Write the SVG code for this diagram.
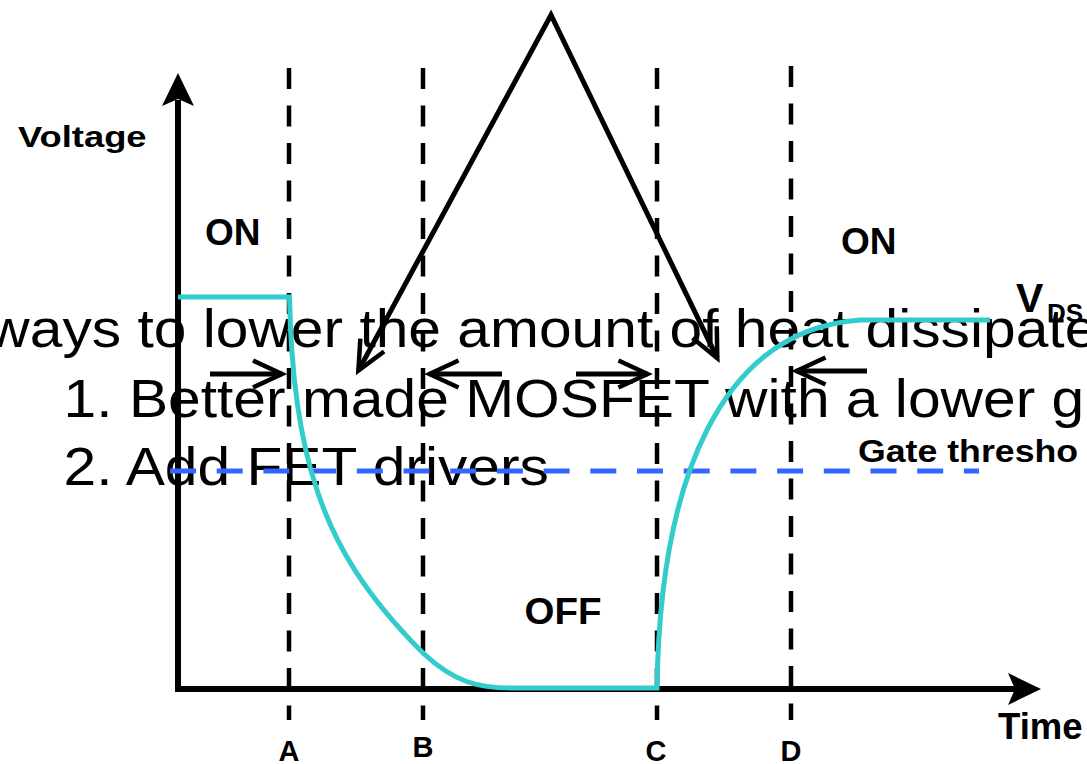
<svg xmlns="http://www.w3.org/2000/svg" width="1087" height="764" viewBox="0 0 1087 764">
<style>
.big{font-family:"Liberation Sans",Arial,sans-serif;font-size:54px;fill:#000}
.lbl{font-family:"Liberation Sans",Arial,sans-serif;font-weight:bold;fill:#000}
.guide{fill:none;stroke:#000;stroke-width:4.5;stroke-dasharray:21 16.5}
.arr{fill:none;stroke:#000;stroke-width:5;marker-end:url(#open)}
.cyan{fill:none;stroke:#33cccc;stroke-width:5}
</style>
<defs>
<marker id="open" markerUnits="userSpaceOnUse" viewBox="-34 -17 40 34" refX="0" refY="0" markerWidth="40" markerHeight="34" orient="auto-start-reverse" overflow="visible">
<path d="M-29,-13.5 L0,0 L-29,13.5" fill="none" stroke="#000" stroke-width="4.5" stroke-linejoin="miter"/>
</marker>
</defs>
<rect width="1087" height="764" fill="#fff"/>
<g id="overlay-text">
<text class="big" transform="translate(-12.7,347) scale(1.088,1)">ways to lower the amount of heat dissipate</text>
<text class="big" transform="translate(63.6,417) scale(1.088,1)">1. Better made MOSFET with a lower g</text>
<text class="big" transform="translate(63.6,485) scale(1.088,1)">2. Add FET drivers</text>
</g>
<g id="guides">
<line class="guide" x1="289" y1="68" x2="289" y2="720"/>
<line class="guide" x1="423" y1="68" x2="423" y2="720"/>
<line class="guide" x1="657" y1="68" x2="657" y2="720"/>
<line class="guide" x1="791" y1="66" x2="791" y2="720"/>
</g>
<g id="axes">
<path d="M178,100 L178,689 L1015,689" fill="none" stroke="#000" stroke-width="6"/>
<path d="M178,73 L194,106 L178,99 L162,106 Z" fill="#000"/>
<path d="M1041,689 L1008,673 L1015,689 L1008,705 Z" fill="#000"/>
</g>
<g id="gate-threshold">
<line x1="170" y1="471" x2="979" y2="471" stroke="#3366ff" stroke-width="5" stroke-dasharray="26 20.7"/>
</g>
<g id="vds-curve">
<path class="cyan" d="M178,297 L289.5,297 C291,380 300,440 317,490 C335,545 365,595 423,653 C455,683 480,688 510,688 L657,688 C660,480 720,330 860,320 L990,320"/>
</g>
<g id="connectors">
<path class="arr" d="M210,374 L282,374"/>
<path class="arr" d="M502,374 L429.5,374"/>
<path class="arr" d="M576,374 L647.5,374"/>
<path class="arr" d="M867,371 L796.5,371"/>
<path class="arr" d="M358.4,370.6 L551,15 L717.3,358.2" stroke-linejoin="miter" marker-start="url(#open)"/>
</g>
<g id="labels">
<text class="lbl" font-size="30.3" transform="translate(18,146.7) scale(1.2,1)">Voltage</text>
<text class="lbl" font-size="37" x="205" y="245">ON</text>
<text class="lbl" font-size="37" x="841" y="254">ON</text>
<text class="lbl" font-size="37" transform="translate(524.5,624) scale(1.04,1)">OFF</text>
<text class="lbl" font-size="36.5" x="998" y="739">Time</text>
<text class="lbl" font-size="30.5" transform="translate(858,461.7) scale(1.17,1)">Gate thresho</text>
<text class="lbl" x="1016" y="311.7"><tspan font-size="41">V</tspan><tspan font-size="26" x="1047" y="321.7">DS</tspan></text>
<text class="lbl" font-size="29" text-anchor="middle" x="289" y="761">A</text>
<text class="lbl" font-size="29" text-anchor="middle" x="423" y="757">B</text>
<text class="lbl" font-size="29" text-anchor="middle" x="656" y="761">C</text>
<text class="lbl" font-size="29" text-anchor="middle" x="791" y="761">D</text>
</g>
</svg>
